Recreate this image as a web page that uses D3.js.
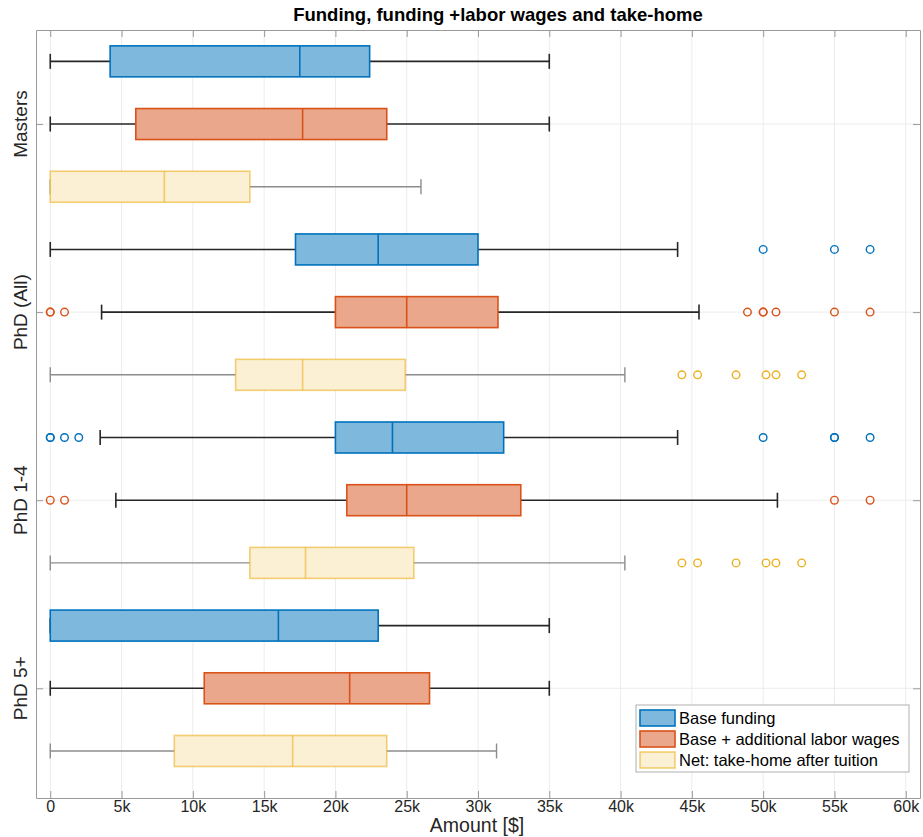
<!DOCTYPE html>
<html>
<head>
<meta charset="utf-8">
<script src="https://cdn.jsdelivr.net/npm/d3@7"></script>
<style>
  html, body { margin: 0; padding: 0; background: #fff; }
  svg { display: block; font-family: "Liberation Sans", Arial, Helvetica, sans-serif; }
</style>
</head>
<body>
<svg id="chart" width="923" height="837"></svg>
<script>
// Student groups (one block of three boxes each)
const groups = ["Masters", "PhD (All)", "PhD 1-4", "PhD 5+"];
const seriesNames = ["Base funding", "Base + additional labor wages", "Net: take-home after tuition"];

// Base funding: whisker ends, quartiles, median, outliers per group
const baseLow  = [0, 0, 3500, 0];
const baseQ1   = [4200, 17200, 20000, 0];
const baseMed  = [17500, 23000, 24000, 16000];
const baseQ3   = [22400, 30000, 31800, 23000];
const baseHigh = [35000, 44000, 44000, 35000];
const baseOut  = [[], [50000, 55000, 57500], [0, 0, 1000, 2000, 50000, 55000, 55000, 57500], []];

// Base + additional labor wages
const wageLow  = [0, 3600, 4600, 0];
const wageQ1   = [6000, 20000, 20800, 10800];
const wageMed  = [17700, 25000, 25000, 21000];
const wageQ3   = [23600, 31400, 33000, 26600];
const wageHigh = [35000, 45500, 51000, 35000];
const wageOut  = [[], [0, 0, 1000, 48900, 50000, 50000, 50900, 55000, 57500], [0, 1000, 55000, 57500], []];

// Net take-home after tuition
const netLow  = [0, 0, 0, 0];
const netQ1   = [0, 13000, 14000, 8700];
const netMed  = [8000, 17700, 17900, 17000];
const netQ3   = [14000, 24900, 25500, 23600];
const netHigh = [26000, 40300, 40300, 31300];
const netOut  = [[], [44300, 45400, 48100, 50200, 50900, 52700], [44300, 45400, 48100, 50200, 50900, 52700], []];

const xTicks = [0, 5000, 10000, 15000, 20000, 25000, 30000, 35000, 40000, 45000, 50000, 55000, 60000];
const xTickLabels = ["0", "5k", "10k", "15k", "20k", "25k", "30k", "35k", "40k", "45k", "50k", "55k", "60k"];

const series = [
  { name: seriesNames[0], low: baseLow, q1: baseQ1, med: baseMed, q3: baseQ3, high: baseHigh, out: baseOut,
    stroke: "#0072BD", fill: "#7fb8dd", strokeOpacity: 1, whisker: "#262626", whiskerW: 1.6 },
  { name: seriesNames[1], low: wageLow, q1: wageQ1, med: wageMed, q3: wageQ3, high: wageHigh, out: wageOut,
    stroke: "#D95319", fill: "#eba78b", strokeOpacity: 1, whisker: "#262626", whiskerW: 1.6 },
  { name: seriesNames[2], low: netLow, q1: netQ1, med: netMed, q3: netQ3, high: netHigh, out: netOut,
    stroke: "#EDB120", fill: "#fbefd4", strokeOpacity: 0.6, whisker: "#8c8c8c", whiskerW: 1.4 }
];

// Flatten into one row per box: positions 1..12 from top to bottom
const rows = [];
groups.forEach((g, gi) => {
  series.forEach((s, si) => {
    rows.push({ pos: gi * 3 + si + 1, s, low: s.low[gi], q1: s.q1[gi], med: s.med[gi],
                q3: s.q3[gi], high: s.high[gi], out: s.out[gi] });
  });
});

const svg = d3.select("#chart");
const plot = { left: 36, right: 920, top: 30, bottom: 798 };

const x = d3.scaleLinear().domain([-1000, 61000]).range([plot.left, plot.right]);
const y = d3.scaleLinear().domain([0.5, 12.75]).range([plot.top, plot.bottom]);
const boxH = 31, capH = 15;

// Grid
const grid = svg.append("g");
grid.selectAll("line.vg").data(xTicks).join("line")
  .attr("x1", d => x(d)).attr("x2", d => x(d))
  .attr("y1", plot.top).attr("y2", plot.bottom)
  .attr("stroke", "#ececec").attr("stroke-width", 1);
grid.selectAll("line.hg").data(groups).join("line")
  .attr("x1", plot.left).attr("x2", plot.right)
  .attr("y1", (d, i) => y(i * 3 + 2)).attr("y2", (d, i) => y(i * 3 + 2))
  .attr("stroke", "#ececec").attr("stroke-width", 1);

// Axes with inward ticks
const axisColor = "#9a9a9a";
const xAxisB = svg.append("g").attr("transform", `translate(0,${plot.bottom})`)
  .call(d3.axisBottom(x).tickValues(xTicks).tickFormat((d, i) => xTickLabels[i]).tickSizeInner(-7).tickSizeOuter(0).tickPadding(3));
const xAxisT = svg.append("g").attr("transform", `translate(0,${plot.top})`)
  .call(d3.axisTop(x).tickValues(xTicks).tickFormat("").tickSizeInner(-7).tickSizeOuter(0));
const yAxisL = svg.append("g").attr("transform", `translate(${plot.left},0)`)
  .call(d3.axisLeft(y).tickValues(groups.map((g, i) => i * 3 + 2)).tickFormat("").tickSizeInner(-7).tickSizeOuter(0));
const yAxisR = svg.append("g").attr("transform", `translate(${plot.right},0)`)
  .call(d3.axisRight(y).tickValues(groups.map((g, i) => i * 3 + 2)).tickFormat("").tickSizeInner(-7).tickSizeOuter(0));
[xAxisB, xAxisT, yAxisL, yAxisR].forEach(a => {
  a.select(".domain").attr("stroke", axisColor);
  a.selectAll(".tick line").attr("stroke", axisColor);
});
xAxisB.selectAll(".tick text").attr("fill", "#262626").style("font-size", "16px")
  .style("font-family", "'Liberation Sans', Arial, sans-serif");

// Group labels, rotated
svg.append("g").selectAll("text").data(groups).join("text")
  .attr("transform", (d, i) => `translate(27,${y(i * 3 + 2)}) rotate(-90)`)
  .attr("text-anchor", "middle")
  .attr("fill", "#262626").style("font-size", "19px")
  .text(d => d);

// Whiskers and caps
const marks = svg.append("g");
const wg = marks.selectAll("g.wh").data(rows).join("g");
wg.append("line")
  .attr("x1", d => x(d.low)).attr("x2", d => x(d.high))
  .attr("y1", d => y(d.pos)).attr("y2", d => y(d.pos))
  .attr("stroke", d => d.s.whisker).attr("stroke-width", d => d.s.whiskerW);
wg.append("line")
  .attr("x1", d => x(d.low)).attr("x2", d => x(d.low))
  .attr("y1", d => y(d.pos) - capH / 2).attr("y2", d => y(d.pos) + capH / 2)
  .attr("stroke", d => d.s.whisker).attr("stroke-width", d => d.s.whiskerW);
wg.append("line")
  .attr("x1", d => x(d.high)).attr("x2", d => x(d.high))
  .attr("y1", d => y(d.pos) - capH / 2).attr("y2", d => y(d.pos) + capH / 2)
  .attr("stroke", d => d.s.whisker).attr("stroke-width", d => d.s.whiskerW);

// Boxes and medians
marks.selectAll("rect.box").data(rows).join("rect")
  .attr("x", d => x(d.q1)).attr("width", d => x(d.q3) - x(d.q1))
  .attr("y", d => y(d.pos) - boxH / 2).attr("height", boxH)
  .attr("fill", d => d.s.fill)
  .attr("stroke", d => d.s.stroke).attr("stroke-opacity", d => d.s.strokeOpacity)
  .attr("stroke-width", 1.6);
marks.selectAll("line.med").data(rows).join("line")
  .attr("x1", d => x(d.med)).attr("x2", d => x(d.med))
  .attr("y1", d => y(d.pos) - boxH / 2).attr("y2", d => y(d.pos) + boxH / 2)
  .attr("stroke", d => d.s.stroke).attr("stroke-opacity", d => d.s.strokeOpacity)
  .attr("stroke-width", 1.6);

// Outliers
const outPts = rows.flatMap(r => r.out.map(v => ({ v, pos: r.pos, s: r.s })));
marks.selectAll("circle").data(outPts).join("circle")
  .attr("cx", d => x(d.v)).attr("cy", d => y(d.pos)).attr("r", 3.8)
  .attr("fill", "none").attr("stroke", d => d.s.stroke).attr("stroke-width", 1.4);

// Title and axis label
svg.append("text").attr("x", 498).attr("y", 21).attr("text-anchor", "middle")
  .attr("fill", "#000").style("font-size", "18.5px").style("font-weight", "bold")
  .text("Funding, funding +labor wages and take-home");
svg.append("text").attr("x", 477).attr("y", 832).attr("text-anchor", "middle")
  .attr("fill", "#262626").style("font-size", "19.5px")
  .text("Amount [$]");

// Legend
const lg = svg.append("g").attr("transform", "translate(636,705)");
lg.append("rect").attr("width", 273).attr("height", 67)
  .attr("fill", "#fff").attr("stroke", "#b0b0b0").attr("stroke-width", 1);
const li = lg.selectAll("g.item").data(series).join("g")
  .attr("transform", (d, i) => `translate(4,${5 + i * 21})`);
li.append("rect").attr("width", 35).attr("height", 16)
  .attr("fill", d => d.fill).attr("stroke", d => d.stroke)
  .attr("stroke-opacity", d => d.strokeOpacity).attr("stroke-width", 1.6);
li.append("text").attr("x", 39).attr("y", 14)
  .attr("fill", "#000").style("font-size", "16.5px")
  .text(d => d.name);
</script>
</body>
</html>
